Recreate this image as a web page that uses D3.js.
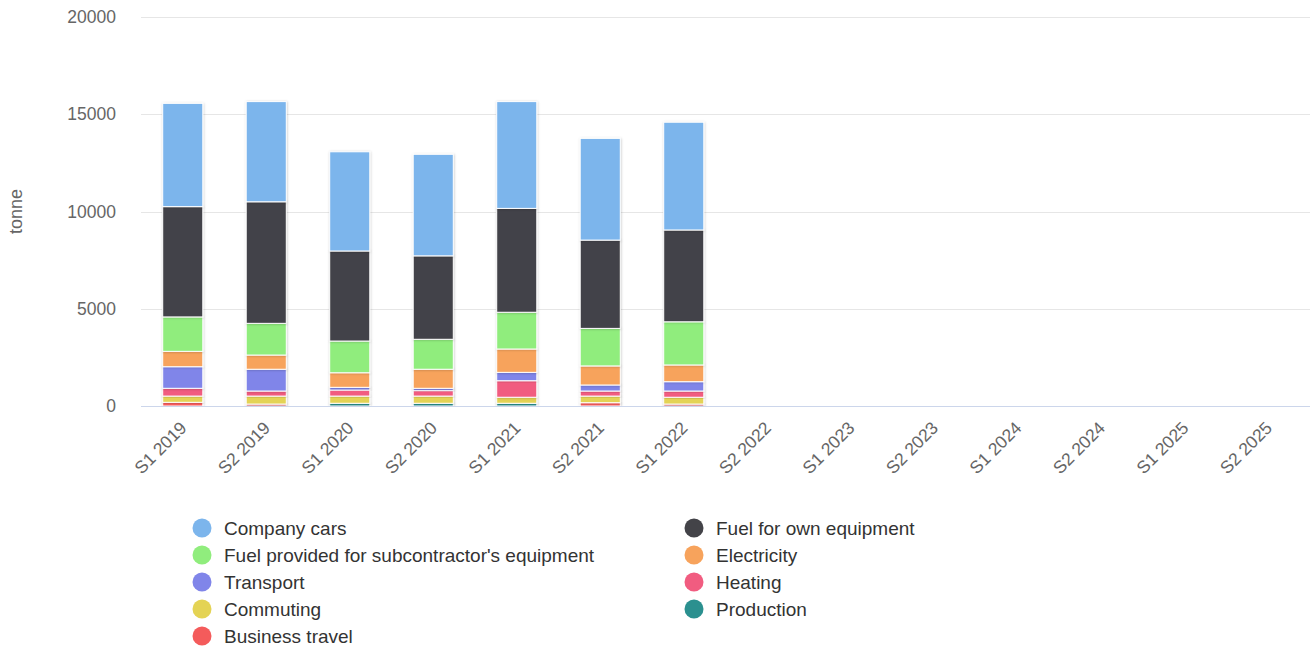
<!DOCTYPE html>
<html>
<head>
<meta charset="utf-8">
<script src="https://cdn.jsdelivr.net/npm/d3@7"></script>
<style>
  html, body { margin: 0; padding: 0; background: #fff; }
  svg { display: block; font-family: "Liberation Sans", Arial, sans-serif; }
</style>
</head>
<body>
<svg id="chart" width="1311" height="651"></svg>
<script>
// Half-year periods shown on the x axis
const categories = ["S1 2019", "S2 2019", "S1 2020", "S2 2020", "S1 2021", "S2 2021", "S1 2022",
  "S2 2022", "S1 2023", "S2 2023", "S1 2024", "S2 2024", "S1 2025", "S2 2025"];

// Emissions per source, tonne (no data after S1 2022)
const companyCars        = [5310, 5150, 5100, 5220, 5490, 5230, 5540, null, null, null, null, null, null, null];
const fuelOwnEquipment   = [5670, 6250, 4630, 4290, 5340, 4540, 4720, null, null, null, null, null, null, null];
const fuelSubcontractor  = [1770, 1630, 1630, 1540, 1890, 1930, 2220, null, null, null, null, null, null, null];
const electricity        = [790, 730, 750, 980, 1200, 980, 860, null, null, null, null, null, null, null];
const transport          = [1110, 1120, 140, 120, 430, 310, 480, null, null, null, null, null, null, null];
const heating            = [400, 260, 310, 280, 850, 260, 320, null, null, null, null, null, null, null];
const commuting          = [320, 410, 370, 370, 310, 340, 350, null, null, null, null, null, null, null];
const production         = [0, 0, 140, 140, 140, 0, 0, null, null, null, null, null, null, null];
const businessTravel     = [190, 100, 0, 0, 0, 170, 100, null, null, null, null, null, null, null];

const yTicks = [0, 5000, 10000, 15000, 20000];

// Series in legend order; the first one sits on top of each stack
const series = [
  { name: "Company cars", values: companyCars, color: "#7cb5ec" },
  { name: "Fuel for own equipment", values: fuelOwnEquipment, color: "#434348" },
  { name: "Fuel provided for subcontractor's equipment", values: fuelSubcontractor, color: "#90ed7d" },
  { name: "Electricity", values: electricity, color: "#f7a35c" },
  { name: "Transport", values: transport, color: "#8085e9" },
  { name: "Heating", values: heating, color: "#f15c80" },
  { name: "Commuting", values: commuting, color: "#e4d354" },
  { name: "Production", values: production, color: "#2b908f" },
  { name: "Business travel", values: businessTravel, color: "#f45b5b" }
];

const svg = d3.select("#chart");
const plotBottom = 406, plotTop = 17, plotLeft = 141, plotRight = 1310;

const x = d3.scaleBand().domain(categories).range([plotLeft, plotRight]).paddingInner(0).paddingOuter(0);
const y = d3.scaleLinear().domain([0, 20000]).range([plotBottom, plotTop]);

// soft shadow under columns
const defs = svg.append("defs");
const f = defs.append("filter").attr("id", "shadow").attr("x", "-20%").attr("y", "-20%").attr("width", "140%").attr("height", "140%");
f.append("feDropShadow").attr("dx", 0.5).attr("dy", 0.5).attr("stdDeviation", 0.8)
  .attr("flood-color", "#000").attr("flood-opacity", 0.22);

// gridlines
svg.append("g").selectAll("line").data(yTicks.filter(d => d > 0)).join("line")
  .attr("x1", plotLeft).attr("x2", plotRight)
  .attr("y1", d => Math.round(y(d)) + 0.5).attr("y2", d => Math.round(y(d)) + 0.5)
  .attr("stroke", "#e6e6e6").attr("stroke-width", 1);

// y axis labels
const yAxis = d3.axisLeft(y).tickValues(yTicks).tickSize(0).tickPadding(0).tickFormat(d3.format("d"));
const gy = svg.append("g").attr("transform", `translate(116,0)`).call(yAxis);
gy.select(".domain").remove();
gy.selectAll("text").attr("fill", "#666").attr("font-size", "17.5px")
  .attr("font-family", "'Liberation Sans', Arial, sans-serif").attr("dy", "0.32em");

// y axis title
svg.append("text")
  .attr("transform", `translate(22,${(plotTop + plotBottom) / 2}) rotate(-90)`)
  .attr("text-anchor", "middle").attr("fill", "#666").attr("font-size", "18px")
  .text("tonne");

// stacked columns: bottom layer first
const keys = series.map(s => s.name).slice().reverse();
const rows = categories.map((c, i) => {
  const r = { category: c };
  series.forEach(s => { r[s.name] = s.values[i] == null ? 0 : s.values[i]; });
  return r;
});
const stack = d3.stack().keys(keys)(rows);
const colorOf = Object.fromEntries(series.map(s => [s.name, s.color]));

const barW = x.bandwidth() * 0.6 * 0.8;
const barOff = (x.bandwidth() - barW) / 2;

svg.append("g").selectAll("g").data(stack).join("g")
  .attr("fill", d => colorOf[d.key])
  .selectAll("rect").data(d => d.filter(p => p[1] - p[0] > 0)).join("rect")
  .attr("x", d => x(d.data.category) + barOff)
  .attr("width", barW)
  .attr("y", d => y(d[1]))
  .attr("height", d => y(d[0]) - y(d[1]))
  .attr("stroke", "#fff").attr("stroke-width", 1)
  .attr("filter", "url(#shadow)");

// x axis line
svg.append("line").attr("x1", plotLeft).attr("x2", plotRight)
  .attr("y1", plotBottom + 0.5).attr("y2", plotBottom + 0.5)
  .attr("stroke", "#ccd6eb").attr("stroke-width", 1);

// x axis labels, rotated
const xAxis = d3.axisBottom(x).tickSize(0).tickPadding(0);
const gx = svg.append("g").attr("transform", `translate(0,${plotBottom})`).call(xAxis);
gx.select(".domain").remove();
gx.selectAll("text")
  .attr("fill", "#666").attr("font-size", "17.5px")
  .attr("font-family", "'Liberation Sans', Arial, sans-serif")
  .attr("text-anchor", "end")
  .attr("dy", null).attr("y", null)
  .attr("transform", "translate(5,23) rotate(-45)");

// legend: two columns, row-major order
const legend = svg.append("g");
series.forEach((s, i) => {
  const col = i % 2, row = Math.floor(i / 2);
  const lx = 202 + col * 492, ly = 528 + row * 27;
  const g = legend.append("g").attr("transform", `translate(${lx},${ly})`);
  g.append("circle").attr("r", 9.5).attr("fill", s.color);
  g.append("text").attr("x", 22).attr("dy", "0.35em")
    .attr("font-size", "19px").attr("fill", "#333").text(s.name);
});
</script>
</body>
</html>
